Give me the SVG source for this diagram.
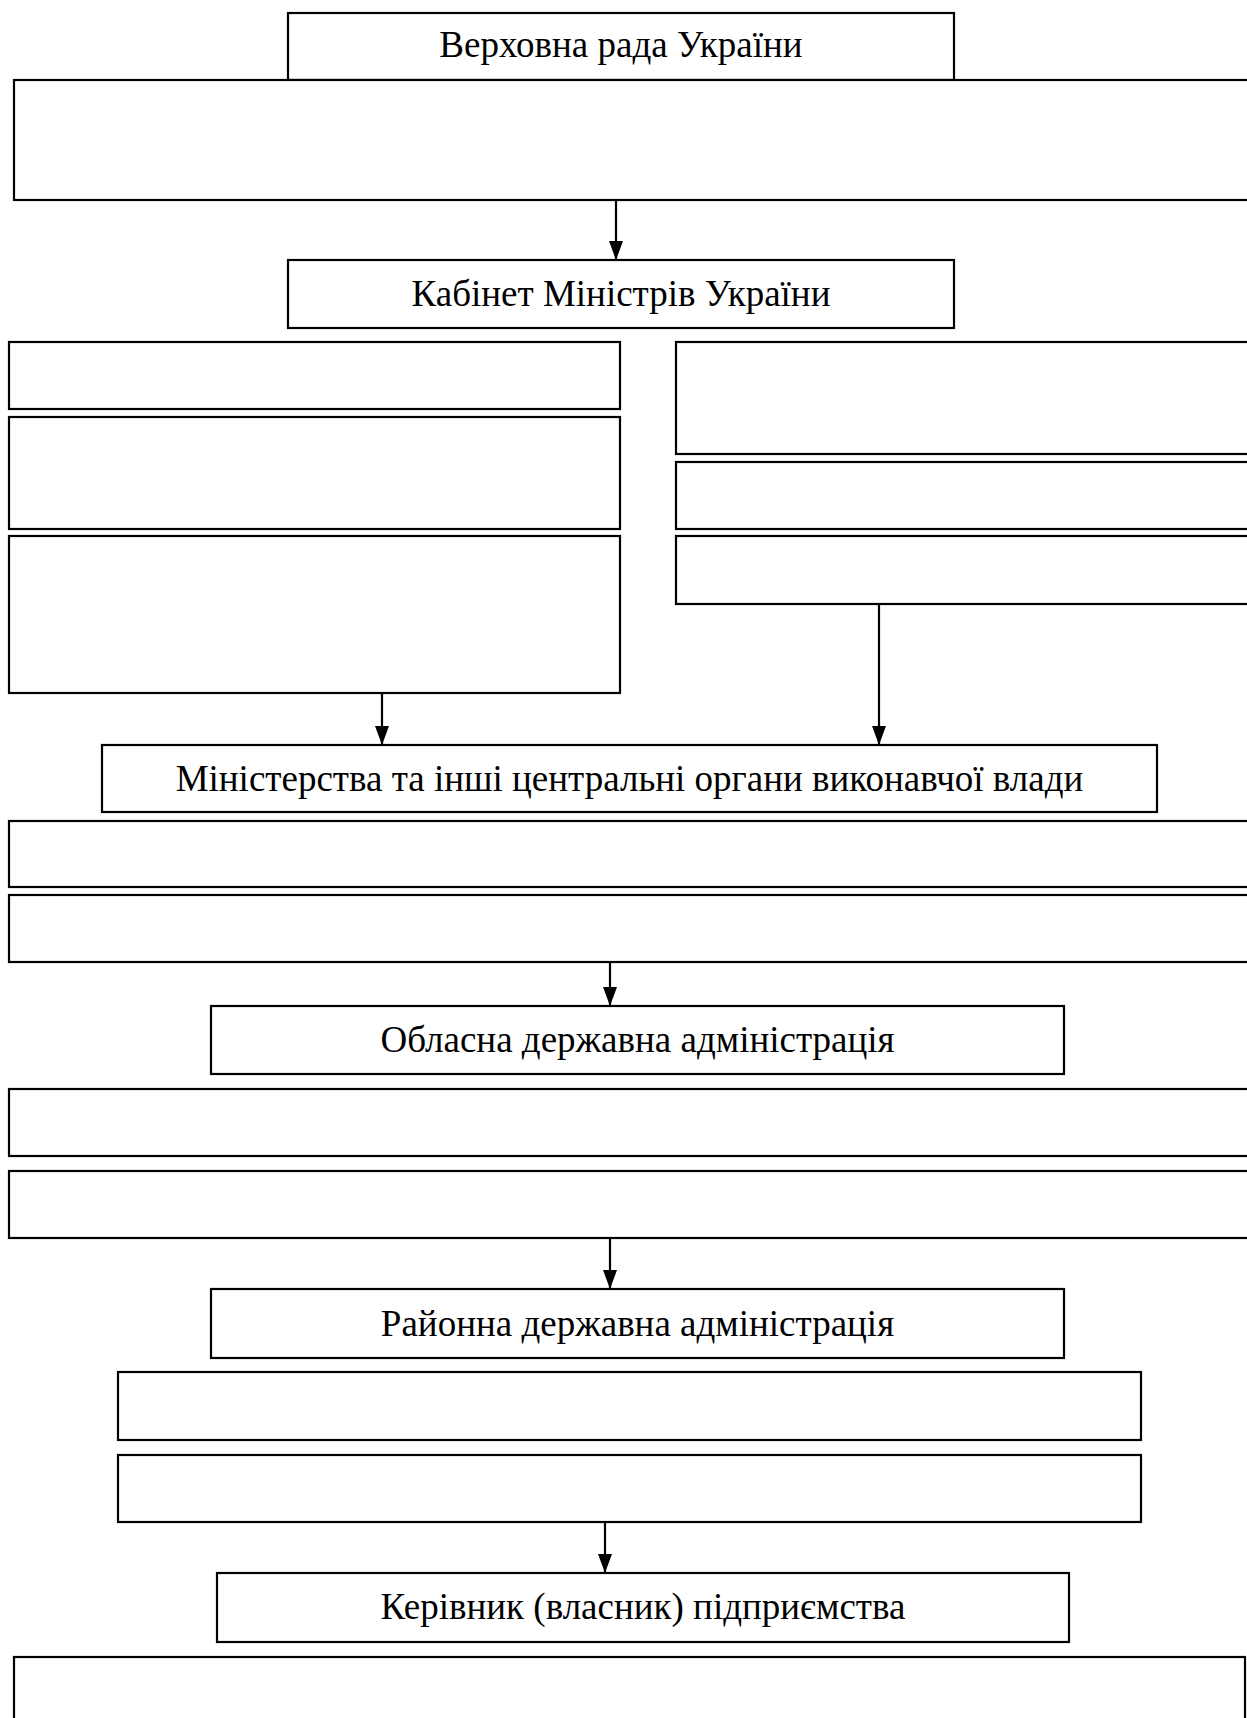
<svg xmlns="http://www.w3.org/2000/svg" width="1247" height="1718" viewBox="0 0 1247 1718">
<defs>
<style>
.b{fill:#fff;stroke:#000;stroke-width:2.2}
.t{font-family:"Liberation Serif","Times New Roman",serif;font-size:37px;fill:#000;text-anchor:middle}
.c{stroke:#000;stroke-width:2.2;fill:none;marker-end:url(#ah)}
</style>
<marker id="ah" viewBox="0 0 19 14" refX="19" refY="7" markerWidth="19" markerHeight="14" markerUnits="userSpaceOnUse" orient="auto">
<path d="M0,0 L19,7 L0,14 Z" fill="#000"/>
</marker>
</defs>
<rect width="1247" height="1718" fill="#fff"/>
<g id="n-verkhovna"><rect class="b" x="288" y="13" width="666" height="67"/><text class="t" x="621" y="57">Верховна рада України</text></g>
<g id="n-vr-desc"><rect class="b" x="14" y="80" width="1250" height="120"/></g>
<g id="n-kabmin"><rect class="b" x="288" y="260" width="666" height="68"/><text class="t" x="621" y="306">Кабінет Міністрів України</text></g>
<g id="n-l1"><rect class="b" x="9" y="342" width="611" height="67"/></g>
<g id="n-l2"><rect class="b" x="9" y="417" width="611" height="112"/></g>
<g id="n-l3"><rect class="b" x="9" y="536" width="611" height="157"/></g>
<g id="n-r1"><rect class="b" x="676" y="342" width="590" height="112"/></g>
<g id="n-r2"><rect class="b" x="676" y="462" width="590" height="67"/></g>
<g id="n-r3"><rect class="b" x="676" y="536" width="590" height="68"/></g>
<g id="n-ministries"><rect class="b" x="102" y="745" width="1055" height="67"/><text class="t" x="629.5" y="791">Міністерства та інші центральні органи виконавчої влади</text></g>
<g id="n-m1"><rect class="b" x="9" y="821" width="1257" height="66"/></g>
<g id="n-m2"><rect class="b" x="9" y="895" width="1257" height="67"/></g>
<g id="n-oblasna"><rect class="b" x="211" y="1006" width="853" height="68"/><text class="t" x="637.5" y="1052">Обласна державна адміністрація</text></g>
<g id="n-o1"><rect class="b" x="9" y="1089" width="1257" height="67"/></g>
<g id="n-o2"><rect class="b" x="9" y="1171" width="1257" height="67"/></g>
<g id="n-raionna"><rect class="b" x="211" y="1289" width="853" height="69"/><text class="t" x="637.5" y="1336">Районна державна адміністрація</text></g>
<g id="n-d1"><rect class="b" x="118" y="1372" width="1023" height="68"/></g>
<g id="n-d2"><rect class="b" x="118" y="1455" width="1023" height="67"/></g>
<g id="n-kerivnyk"><rect class="b" x="217" y="1573" width="852" height="69"/><text class="t" x="643" y="1619">Керівник (власник) підприємства</text></g>
<g id="n-k1"><rect class="b" x="14" y="1657" width="1231" height="80"/></g>
<g id="connectors">
<line class="c" x1="616" y1="200" x2="616" y2="260"/>
<line class="c" x1="382" y1="693" x2="382" y2="745"/>
<line class="c" x1="879" y1="604" x2="879" y2="745"/>
<line class="c" x1="610" y1="962" x2="610" y2="1006"/>
<line class="c" x1="610" y1="1238" x2="610" y2="1289"/>
<line class="c" x1="605" y1="1522" x2="605" y2="1573"/>
</g>
</svg>
